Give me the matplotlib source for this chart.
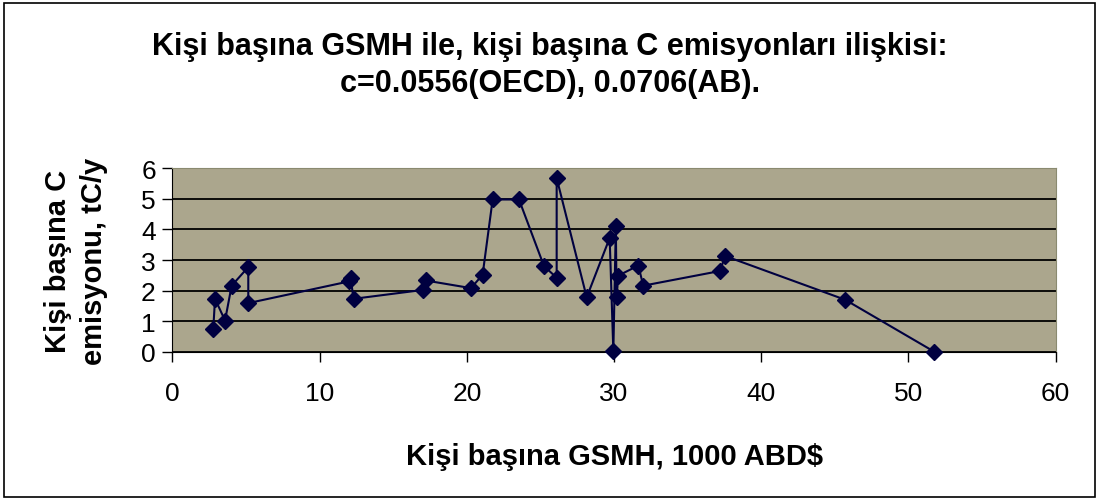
import matplotlib
matplotlib.use("Agg")
import matplotlib.pyplot as plt
from matplotlib.patches import Rectangle

plt.rcParams['font.family'] = ['Liberation Sans', 'DejaVu Sans']

gnp = [2.77, 2.89, 3.57, 4.02, 5.15, 5.15, 12.0, 12.1, 12.3, 17.0, 17.2, 20.28,
       21.07, 21.75, 23.54, 25.24, 26.1, 26.1, 28.14, 29.7, 29.95, 30.12, 30.17,
       30.29, 31.65, 31.98, 37.19, 37.55, 45.7, 51.75]
emis = [0.74, 1.73, 1.02, 2.16, 2.77, 1.59, 2.3, 2.42, 1.73, 2.02, 2.33, 2.08,
        2.52, 4.98, 4.98, 2.8, 2.42, 5.68, 1.78, 3.72, 0.02, 4.1, 1.78,
        2.49, 2.82, 2.16, 2.64, 3.13, 1.7, 0.0]

title = "Kişi başına GSMH ile, kişi başına C emisyonları ilişkisi:\nc=0.0556(OECD), 0.0706(AB)."
xlabel = "Kişi başına GSMH, 1000 ABD$"
ylabel = "Kişi başına C\nemisyonu, tC/y"
xticks = [0, 10, 20, 30, 40, 50, 60]
yticks = [0, 1, 2, 3, 4, 5, 6]

fig = plt.figure(figsize=(11, 5.02), dpi=100)
fig.patch.set_facecolor('white')
fig.add_artist(Rectangle((0.004, 0.008), 0.991, 0.984, transform=fig.transFigure,
                         fill=False, edgecolor='black', linewidth=1.2))

ax = fig.add_axes([0.1568, 0.2974, 0.8029, 0.3653])
ax.set_facecolor('#ABA68D')
ax.plot(gnp, emis, color='#000040', linewidth=1.5, marker='D', markersize=8,
        markerfacecolor='#000040', markeredgecolor='#000040', zorder=3, clip_on=False)
ax.set_xlim(0, 60)
ax.set_ylim(0, 6)
ax.set_xticks(xticks)
ax.set_yticks(yticks)
ax.yaxis.grid(True, color='black', linewidth=1.3)
ax.set_axisbelow(True)
ax.tick_params(axis='both', direction='out', length=7, width=1, colors='black',
               labelsize=19)
ax.tick_params(axis='x', pad=14)
ax.tick_params(axis='y', pad=5)
ax.spines['left'].set_color('black')
ax.spines['bottom'].set_color('black')
ax.spines['top'].set_color('#8a8a70')
ax.spines['right'].set_color('#8a8a70')
ax.set_xlabel(xlabel, fontsize=21, fontweight='bold', labelpad=27)
ax.set_ylabel(ylabel, fontsize=21, fontweight='bold', labelpad=24, linespacing=1.35)

fig.text(0.5, 0.87, title, ha='center', va='center', fontsize=22,
         fontweight='bold', linespacing=1.3)

fig.savefig("out.png", dpi=100)
